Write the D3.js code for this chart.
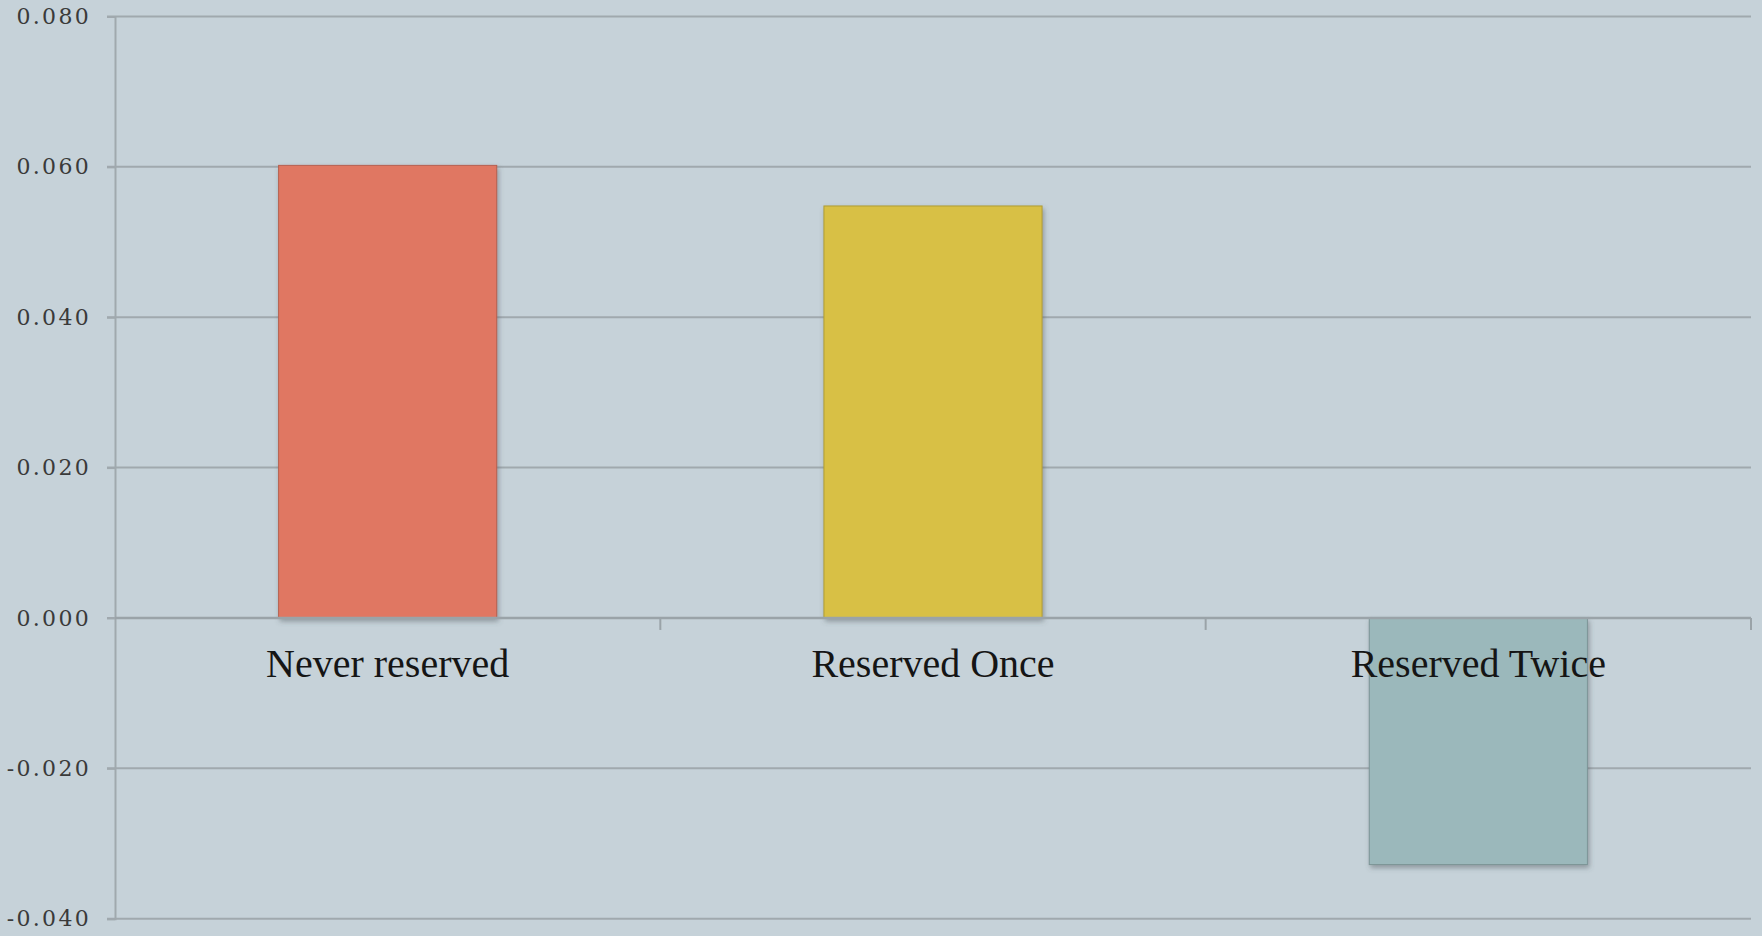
<!DOCTYPE html>
<html>
<head>
<meta charset="utf-8">
<script src="https://cdn.jsdelivr.net/npm/d3@7"></script>
<style>
  html, body { margin: 0; padding: 0; background: #c6d2d9; }
  svg { display: block; }
</style>
</head>
<body>
<svg id="chart" width="1762" height="936"></svg>
<script>
// Chart data
const categories = ["Never reserved", "Reserved Once", "Reserved Twice"];
const values = [0.0602, 0.0548, -0.0328];
const barColors = ["#e07762", "#d8c044", "#9bb8bb"];
const yTicks = [-0.04, -0.02, 0, 0.02, 0.04, 0.06, 0.08];

(function () {
  const svg = d3.select("#chart");
  const W = 1762, H = 936;
  const plotLeft = 115, plotRight = 1751, plotTop = 16.5, plotBottom = 918.7;

  svg.append("rect").attr("width", W).attr("height", H).attr("fill", "#c6d2d9");

  const defs = svg.append("defs");
  const shadow = defs.append("filter").attr("id", "barShadow")
    .attr("x", "-10%").attr("y", "-10%").attr("width", "120%").attr("height", "120%");
  shadow.append("feDropShadow").attr("dx", 1.5).attr("dy", 3).attr("stdDeviation", 2.5)
    .attr("flood-color", "#4a5558").attr("flood-opacity", 0.45);

  const x = d3.scaleBand().domain(categories).range([plotLeft, plotRight])
    .paddingInner(0.6).paddingOuter(0.3);
  const y = d3.scaleLinear().domain([-0.04, 0.08]).range([plotBottom, plotTop]);

  // Horizontal gridlines
  svg.append("g").selectAll("line").data(yTicks).join("line")
    .attr("x1", plotLeft - 8).attr("x2", plotRight)
    .attr("y1", d => y(d)).attr("y2", d => y(d))
    .attr("stroke", "#a0a9ae").attr("stroke-width", 2);

  // Value axis (plain hyphen for negatives)
  const fmt = d3.format(".3f");
  const yAxis = svg.append("g").attr("transform", `translate(${plotLeft},0)`)
    .call(d3.axisLeft(y).tickValues(yTicks).tickSize(8)
      .tickFormat(d => fmt(d).replace("\u2212", "-")));
  yAxis.select(".domain").attr("stroke", "#a0a9ae").attr("stroke-width", 2);
  yAxis.selectAll(".tick line").attr("stroke", "#a0a9ae").attr("stroke-width", 2);
  yAxis.selectAll(".tick text")
    .attr("x", -24)
    .attr("fill", "#3a3a3a")
    .style("font-family", "'DejaVu Serif', 'Liberation Serif', serif")
    .style("font-size", "22px")
    .style("letter-spacing", "2.3px");

  // Bars
  svg.append("g").selectAll("rect").data(categories).join("rect")
    .attr("x", d => x(d))
    .attr("width", x.bandwidth())
    .attr("y", (d, i) => y(Math.max(0, values[i])))
    .attr("height", (d, i) => Math.abs(y(values[i]) - y(0)))
    .attr("fill", (d, i) => barColors[i])
    .attr("stroke", (d, i) => d3.color(barColors[i]).darker(0.6))
    .attr("stroke-width", 1)
    .attr("filter", "url(#barShadow)");

  // Category axis along zero
  const step = x.step();
  const boundaries = [0, 1, 2, 3].map(i => plotLeft + i * step);
  svg.append("line")
    .attr("x1", plotLeft).attr("x2", plotRight)
    .attr("y1", y(0)).attr("y2", y(0))
    .attr("stroke", "#9aa3a8").attr("stroke-width", 2.5);
  svg.append("g").selectAll("line").data(boundaries.slice(1)).join("line")
    .attr("x1", d => d).attr("x2", d => d)
    .attr("y1", y(0)).attr("y2", y(0) + 12)
    .attr("stroke", "#9aa3a8").attr("stroke-width", 2);

  // Category labels
  svg.append("g").selectAll("text").data(categories).join("text")
    .attr("x", d => x(d) + x.bandwidth() / 2)
    .attr("y", y(0) + 59)
    .attr("text-anchor", "middle")
    .attr("fill", "#151515")
    .style("font-family", "'Liberation Serif', 'DejaVu Serif', serif")
    .style("font-size", "40px")
    .text(d => d);
})();
</script>
</body>
</html>
